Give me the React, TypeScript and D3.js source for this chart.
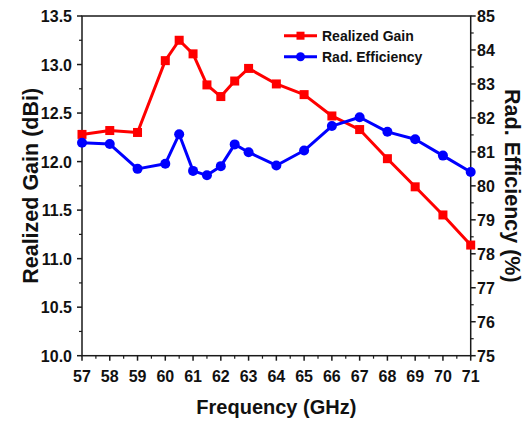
import React from "react";
import * as d3 from "d3";

const freq = [57, 58, 59, 60, 60.5, 61, 61.5, 62, 62.5, 63, 64, 65, 66, 67, 68, 69, 70, 71];
const gain = [12.28, 12.32, 12.3, 13.04, 13.25, 13.11, 12.79, 12.67, 12.83, 12.96, 12.8, 12.69, 12.47, 12.33, 12.03, 11.74, 11.45, 11.14];
const eff = [81.27, 81.23, 80.5, 80.65, 81.52, 80.44, 80.31, 80.58, 81.22, 80.99, 80.6, 81.04, 81.76, 82.02, 81.59, 81.37, 80.89, 80.41];
const xTicks = [57, 58, 59, 60, 61, 62, 63, 64, 65, 66, 67, 68, 69, 70, 71];
const gainTicks = [10.0, 10.5, 11.0, 11.5, 12.0, 12.5, 13.0, 13.5];
const effTicks = [75, 76, 77, 78, 79, 80, 81, 82, 83, 84, 85];
const seriesNames = ["Realized Gain", "Rad. Efficiency"];

const FONT = "'Liberation Sans', Arial, sans-serif";
const AX = "#1a1a1a";

export default function App() {
  const L = 82, R = 470.7, T = 16, B = 355.7;
  const x = d3.scaleLinear().domain([57, 71]).range([L, R]);
  const yG = d3.scaleLinear().domain([10, 13.5]).range([B, T]);
  const yE = d3.scaleLinear().domain([75, 85]).range([B, T]);

  const lineG = d3.line<number>().x((_, i) => x(freq[i])).y((d) => yG(d));
  const lineE = d3.line<number>().x((_, i) => x(freq[i])).y((d) => yE(d));

  const xMinor = d3.range(57.5, 71, 1);
  const gMinor = d3.range(10.25, 13.5, 0.5);
  const eMinor = d3.range(75.5, 85, 1);

  return (
    <svg width={530} height={423} style={{ position: "absolute", left: 0, top: 0, background: "#fff" }} fontFamily={FONT}>
      <rect x={0} y={0} width={530} height={423} fill="#fff" />
      {/* frame */}
      <rect x={L} y={T} width={R - L} height={B - T} fill="none" stroke={AX} strokeWidth={1.5} />
      {/* x ticks */}
      {xTicks.map((t) => (
        <g key={"x" + t}>
          <line x1={x(t)} x2={x(t)} y1={B} y2={B + 5} stroke={AX} strokeWidth={1.5} />
          <text x={x(t)} y={382} fontSize={16} fontWeight="bold" textAnchor="middle" fill="#111">{t}</text>
        </g>
      ))}
      {xMinor.map((t) => (
        <line key={"xm" + t} x1={x(t)} x2={x(t)} y1={B} y2={B + 3} stroke={AX} strokeWidth={1.2} />
      ))}
      {/* left ticks */}
      {gainTicks.map((t) => (
        <g key={"g" + t}>
          <line x1={L - 5} x2={L} y1={yG(t)} y2={yG(t)} stroke={AX} strokeWidth={1.5} />
          <text x={72} y={yG(t) + 6} fontSize={16} fontWeight="bold" textAnchor="end" fill="#111">{t.toFixed(1)}</text>
        </g>
      ))}
      {gMinor.map((t) => (
        <line key={"gm" + t} x1={L - 3} x2={L} y1={yG(t)} y2={yG(t)} stroke={AX} strokeWidth={1.2} />
      ))}
      {/* right ticks */}
      {effTicks.map((t) => (
        <g key={"e" + t}>
          <line x1={R} x2={R + 5} y1={yE(t)} y2={yE(t)} stroke={AX} strokeWidth={1.5} />
          <text x={477} y={yE(t) + 6} fontSize={16} fontWeight="bold" textAnchor="start" fill="#111">{t}</text>
        </g>
      ))}
      {eMinor.map((t) => (
        <line key={"em" + t} x1={R} x2={R + 3} y1={yE(t)} y2={yE(t)} stroke={AX} strokeWidth={1.2} />
      ))}
      {/* titles */}
      <text x={(L + R) / 2} y={414} fontSize={20} fontWeight="bold" textAnchor="middle" fill="#111">Frequency (GHz)</text>
      <text transform={`translate(38,${(T + B) / 2}) rotate(-90)`} fontSize={21.5} fontWeight="bold" textAnchor="middle" fill="#111">Realized Gain (dBi)</text>
      <text transform={`translate(505,${(T + B) / 2}) rotate(90)`} fontSize={21.5} fontWeight="bold" textAnchor="middle" fill="#111">Rad. Efficiency (%)</text>
      {/* series */}
      <path d={lineG(gain) || ""} fill="none" stroke="#ff0000" strokeWidth={3} strokeLinejoin="round" />
      {gain.map((v, i) => (
        <rect key={"gs" + i} x={x(freq[i]) - 4.5} y={yG(v) - 4.5} width={9} height={9} fill="#ff0000" />
      ))}
      <path d={lineE(eff) || ""} fill="none" stroke="#0000ff" strokeWidth={3} strokeLinejoin="round" />
      {eff.map((v, i) => (
        <circle key={"ec" + i} cx={x(freq[i])} cy={yE(v)} r={5} fill="#0000ff" />
      ))}
      {/* legend */}
      <line x1={284} x2={317} y1={35.7} y2={35.7} stroke="#ff0000" strokeWidth={3} />
      <rect x={300.5 - 4} y={35.7 - 4} width={8} height={8} fill="#ff0000" />
      <text x={322} y={41} fontSize={14} fontWeight="bold" fill="#111">{seriesNames[0]}</text>
      <line x1={284} x2={317} y1={56.7} y2={56.7} stroke="#0000ff" strokeWidth={3} />
      <circle cx={300.5} cy={56.7} r={4.5} fill="#0000ff" />
      <text x={322} y={62} fontSize={14} fontWeight="bold" fill="#111">{seriesNames[1]}</text>
    </svg>
  );
}
